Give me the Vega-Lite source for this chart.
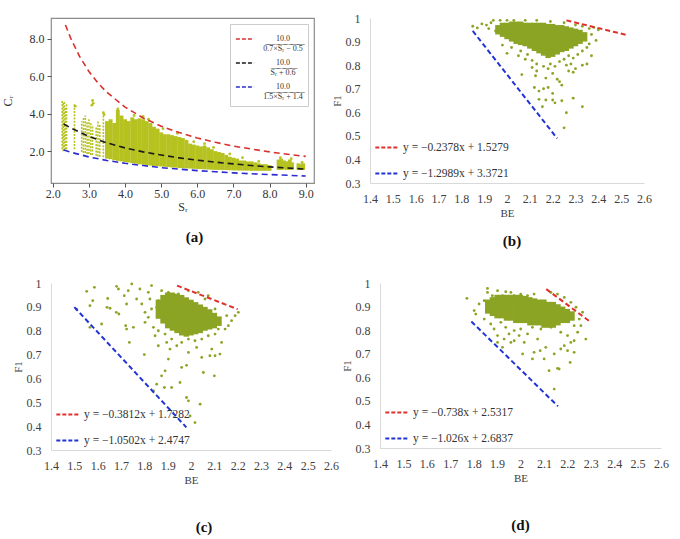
{
  "$schema": "https://vega.github.io/schema/vega-lite/v6.json",
  "background": "white",
  "padding": {"left": 0, "top": 12, "right": 5, "bottom": 5},
  "config": {
    "font": "Liberation Serif",
    "axis": {"labelFont": "Liberation Serif", "titleFont": "Liberation Serif", "titleFontWeight": "normal", "grid": false, "labelFlush": false},
    "legend": {"labelFont": "Liberation Serif"},
    "title": {"font": "Liberation Serif", "fontWeight": "bold", "fontSize": 15, "color": "#111"}
  },
  "datasets": {
    "a_cols": [
      {"S": 2.26, "C": 2.1, "C2": 4.7}, {"S": 2.29, "C": 2.0, "C2": 4.6}, {"S": 2.32, "C": 2.05, "C2": 4.7}, {"S": 2.35, "C": 2.1, "C2": 4.4},
      {"S": 2.38, "C": 2.1, "C2": 4.5},
      {"S": 2.6, "C": 2.1, "C2": 4.5},
      {"S": 2.8, "C": 1.95, "C2": 3.6}, {"S": 2.85, "C": 1.9, "C2": 3.8}, {"S": 2.9, "C": 1.9, "C2": 3.9}, {"S": 2.95, "C": 1.85, "C2": 3.6},
      {"S": 3.0, "C": 1.85, "C2": 3.7}, {"S": 3.05, "C": 1.8, "C2": 3.5}, {"S": 3.1, "C": 1.8, "C2": 3.4},
      {"S": 3.2, "C": 1.75, "C2": 3.3}, {"S": 3.25, "C": 1.72, "C2": 3.6}, {"S": 3.3, "C": 1.7, "C2": 3.4}, {"S": 3.4, "C": 1.68, "C2": 3.9}
    ],
    "a_band": [
      {"S": 3.5, "C": 1.6, "C2": 3.6}, {"S": 3.6, "C": 1.57, "C2": 3.7}, {"S": 3.7, "C": 1.52, "C2": 3.5}, {"S": 3.8, "C": 1.48, "C2": 4.2},
      {"S": 3.9, "C": 1.45, "C2": 3.9}, {"S": 4.0, "C": 1.42, "C2": 3.7}, {"S": 4.1, "C": 1.39, "C2": 3.6}, {"S": 4.2, "C": 1.36, "C2": 3.8},
      {"S": 4.3, "C": 1.33, "C2": 3.7}, {"S": 4.4, "C": 1.3, "C2": 3.75}, {"S": 4.5, "C": 1.28, "C2": 3.7}, {"S": 4.6, "C": 1.25, "C2": 3.6},
      {"S": 4.7, "C": 1.23, "C2": 3.5}, {"S": 4.8, "C": 1.21, "C2": 3.3}, {"S": 4.9, "C": 1.2, "C2": 3.2}, {"S": 5.0, "C": 1.18, "C2": 3.0},
      {"S": 5.1, "C": 1.16, "C2": 2.9}, {"S": 5.2, "C": 1.15, "C2": 2.9}, {"S": 5.3, "C": 1.13, "C2": 2.85}, {"S": 5.4, "C": 1.12, "C2": 2.8},
      {"S": 5.5, "C": 1.1, "C2": 2.75}, {"S": 5.6, "C": 1.09, "C2": 2.7}, {"S": 5.7, "C": 1.08, "C2": 2.6}, {"S": 5.8, "C": 1.07, "C2": 2.4},
      {"S": 5.9, "C": 1.06, "C2": 2.35}, {"S": 6.0, "C": 1.05, "C2": 2.3}, {"S": 6.1, "C": 1.04, "C2": 2.25}, {"S": 6.2, "C": 1.03, "C2": 2.3},
      {"S": 6.3, "C": 1.02, "C2": 2.2}, {"S": 6.4, "C": 1.01, "C2": 2.1}, {"S": 6.5, "C": 1.0, "C2": 2.0}, {"S": 6.6, "C": 1.0, "C2": 1.95},
      {"S": 6.7, "C": 0.99, "C2": 1.9}, {"S": 6.8, "C": 0.99, "C2": 1.8}, {"S": 6.9, "C": 0.98, "C2": 1.7}, {"S": 7.0, "C": 0.97, "C2": 1.65},
      {"S": 7.1, "C": 0.97, "C2": 1.6}, {"S": 7.2, "C": 0.96, "C2": 1.5}, {"S": 7.3, "C": 0.96, "C2": 1.5}, {"S": 7.4, "C": 0.96, "C2": 1.45},
      {"S": 7.5, "C": 0.95, "C2": 1.45}, {"S": 7.6, "C": 0.95, "C2": 1.4}, {"S": 7.7, "C": 0.95, "C2": 1.35}, {"S": 7.8, "C": 0.95, "C2": 1.3},
      {"S": 7.9, "C": 0.95, "C2": 1.3}, {"S": 8.0, "C": 0.95, "C2": 1.25},
      {"S": 8.25, "C": 1.0, "C2": 1.55}, {"S": 8.32, "C": 1.0, "C2": 1.6}, {"S": 8.4, "C": 1.02, "C2": 1.5}, {"S": 8.48, "C": 1.0, "C2": 1.45},
      {"S": 8.56, "C": 1.0, "C2": 1.55}, {"S": 8.62, "C": 1.02, "C2": 1.4}, {"S": 8.8, "C": 1.0, "C2": 1.35}, {"S": 8.87, "C": 1.0, "C2": 1.3},
      {"S": 8.93, "C": 1.0, "C2": 1.35}
    ],
    "a_pts": [
      {"S": 3.1, "C": 4.7}, {"S": 3.12, "C": 4.55}, {"S": 3.08, "C": 4.45}, {"S": 3.4, "C": 4.05}, {"S": 3.42, "C": 3.95},
      {"S": 3.8, "C": 4.25}, {"S": 2.62, "C": 4.4}, {"S": 4.25, "C": 3.9}, {"S": 4.5, "C": 3.85}, {"S": 4.65, "C": 3.7},
      {"S": 5.05, "C": 3.2}, {"S": 5.45, "C": 2.95}, {"S": 5.9, "C": 2.5}, {"S": 6.2, "C": 2.4}, {"S": 6.45, "C": 2.2},
      {"S": 6.9, "C": 1.85}, {"S": 7.25, "C": 1.65}, {"S": 7.7, "C": 1.45}, {"S": 8.3, "C": 1.65}, {"S": 8.6, "C": 1.6}, {"S": 8.9, "C": 1.4}
    ],
    "a_curves": [
      {"S": 2.35, "C": 8.73, "curve": "10.0/(0.7×Sᵣ − 0.5)"}, {"S": 2.5, "C": 8.0, "curve": "10.0/(0.7×Sᵣ − 0.5)"},
      {"S": 2.75, "C": 7.02, "curve": "10.0/(0.7×Sᵣ − 0.5)"}, {"S": 3.0, "C": 6.25, "curve": "10.0/(0.7×Sᵣ − 0.5)"},
      {"S": 3.25, "C": 5.63, "curve": "10.0/(0.7×Sᵣ − 0.5)"}, {"S": 3.5, "C": 5.13, "curve": "10.0/(0.7×Sᵣ − 0.5)"},
      {"S": 4.0, "C": 4.35, "curve": "10.0/(0.7×Sᵣ − 0.5)"}, {"S": 4.5, "C": 3.77, "curve": "10.0/(0.7×Sᵣ − 0.5)"},
      {"S": 5.0, "C": 3.33, "curve": "10.0/(0.7×Sᵣ − 0.5)"}, {"S": 5.5, "C": 2.99, "curve": "10.0/(0.7×Sᵣ − 0.5)"},
      {"S": 6.0, "C": 2.7, "curve": "10.0/(0.7×Sᵣ − 0.5)"}, {"S": 6.5, "C": 2.47, "curve": "10.0/(0.7×Sᵣ − 0.5)"},
      {"S": 7.0, "C": 2.27, "curve": "10.0/(0.7×Sᵣ − 0.5)"}, {"S": 7.5, "C": 2.11, "curve": "10.0/(0.7×Sᵣ − 0.5)"},
      {"S": 8.0, "C": 1.96, "curve": "10.0/(0.7×Sᵣ − 0.5)"}, {"S": 8.5, "C": 1.83, "curve": "10.0/(0.7×Sᵣ − 0.5)"},
      {"S": 9.0, "C": 1.72, "curve": "10.0/(0.7×Sᵣ − 0.5)"},
      {"S": 2.3, "C": 3.45, "curve": "10.0/(Sᵣ + 0.6)"}, {"S": 2.5, "C": 3.23, "curve": "10.0/(Sᵣ + 0.6)"},
      {"S": 3.0, "C": 2.78, "curve": "10.0/(Sᵣ + 0.6)"}, {"S": 3.5, "C": 2.44, "curve": "10.0/(Sᵣ + 0.6)"},
      {"S": 4.0, "C": 2.17, "curve": "10.0/(Sᵣ + 0.6)"}, {"S": 4.5, "C": 1.96, "curve": "10.0/(Sᵣ + 0.6)"},
      {"S": 5.0, "C": 1.79, "curve": "10.0/(Sᵣ + 0.6)"}, {"S": 5.5, "C": 1.64, "curve": "10.0/(Sᵣ + 0.6)"},
      {"S": 6.0, "C": 1.52, "curve": "10.0/(Sᵣ + 0.6)"}, {"S": 6.5, "C": 1.41, "curve": "10.0/(Sᵣ + 0.6)"},
      {"S": 7.0, "C": 1.32, "curve": "10.0/(Sᵣ + 0.6)"}, {"S": 7.5, "C": 1.23, "curve": "10.0/(Sᵣ + 0.6)"},
      {"S": 8.0, "C": 1.16, "curve": "10.0/(Sᵣ + 0.6)"}, {"S": 8.5, "C": 1.1, "curve": "10.0/(Sᵣ + 0.6)"},
      {"S": 9.0, "C": 1.04, "curve": "10.0/(Sᵣ + 0.6)"},
      {"S": 2.3, "C": 2.06, "curve": "10.0/(1.5×Sᵣ + 1.4)"}, {"S": 2.5, "C": 1.94, "curve": "10.0/(1.5×Sᵣ + 1.4)"},
      {"S": 3.0, "C": 1.69, "curve": "10.0/(1.5×Sᵣ + 1.4)"}, {"S": 3.5, "C": 1.5, "curve": "10.0/(1.5×Sᵣ + 1.4)"},
      {"S": 4.0, "C": 1.35, "curve": "10.0/(1.5×Sᵣ + 1.4)"}, {"S": 4.5, "C": 1.23, "curve": "10.0/(1.5×Sᵣ + 1.4)"},
      {"S": 5.0, "C": 1.12, "curve": "10.0/(1.5×Sᵣ + 1.4)"}, {"S": 5.5, "C": 1.04, "curve": "10.0/(1.5×Sᵣ + 1.4)"},
      {"S": 6.0, "C": 0.96, "curve": "10.0/(1.5×Sᵣ + 1.4)"}, {"S": 6.5, "C": 0.9, "curve": "10.0/(1.5×Sᵣ + 1.4)"},
      {"S": 7.0, "C": 0.84, "curve": "10.0/(1.5×Sᵣ + 1.4)"}, {"S": 7.5, "C": 0.79, "curve": "10.0/(1.5×Sᵣ + 1.4)"},
      {"S": 8.0, "C": 0.75, "curve": "10.0/(1.5×Sᵣ + 1.4)"}, {"S": 8.5, "C": 0.71, "curve": "10.0/(1.5×Sᵣ + 1.4)"},
      {"S": 9.0, "C": 0.67, "curve": "10.0/(1.5×Sᵣ + 1.4)"}
    ],
    "b_core": [
      {"BE": 1.96, "F1": 0.93, "F1b": 0.97}, {"BE": 1.98, "F1": 0.92, "F1b": 0.98}, {"BE": 2.0, "F1": 0.91, "F1b": 0.98},
      {"BE": 2.02, "F1": 0.9, "F1b": 0.985}, {"BE": 2.04, "F1": 0.89, "F1b": 0.985}, {"BE": 2.06, "F1": 0.885, "F1b": 0.985},
      {"BE": 2.08, "F1": 0.88, "F1b": 0.98}, {"BE": 2.1, "F1": 0.87, "F1b": 0.98}, {"BE": 2.12, "F1": 0.86, "F1b": 0.98},
      {"BE": 2.14, "F1": 0.85, "F1b": 0.98}, {"BE": 2.16, "F1": 0.84, "F1b": 0.98}, {"BE": 2.18, "F1": 0.83, "F1b": 0.975},
      {"BE": 2.2, "F1": 0.835, "F1b": 0.975}, {"BE": 2.22, "F1": 0.845, "F1b": 0.97}, {"BE": 2.24, "F1": 0.855, "F1b": 0.97},
      {"BE": 2.26, "F1": 0.86, "F1b": 0.965}, {"BE": 2.28, "F1": 0.87, "F1b": 0.96}, {"BE": 2.3, "F1": 0.88, "F1b": 0.955},
      {"BE": 2.32, "F1": 0.89, "F1b": 0.95}, {"BE": 2.34, "F1": 0.9, "F1b": 0.94}
    ],
    "b_pts": [
      {"BE": 1.85, "F1": 0.965}, {"BE": 1.87, "F1": 0.958}, {"BE": 1.89, "F1": 0.975}, {"BE": 1.91, "F1": 0.97}, {"BE": 1.93, "F1": 0.98},
      {"BE": 1.92, "F1": 0.955}, {"BE": 1.94, "F1": 0.99}, {"BE": 1.95, "F1": 0.945}, {"BE": 1.97, "F1": 0.99}, {"BE": 1.99, "F1": 0.95},
      {"BE": 2.0, "F1": 0.99}, {"BE": 2.03, "F1": 0.99}, {"BE": 2.08, "F1": 0.99}, {"BE": 2.13, "F1": 0.99}, {"BE": 2.19, "F1": 0.985},
      {"BE": 2.25, "F1": 0.98}, {"BE": 2.3, "F1": 0.97}, {"BE": 2.33, "F1": 0.965}, {"BE": 2.36, "F1": 0.955}, {"BE": 2.38, "F1": 0.96},
      {"BE": 2.4, "F1": 0.95}, {"BE": 2.37, "F1": 0.93}, {"BE": 2.39, "F1": 0.905}, {"BE": 2.36, "F1": 0.89}, {"BE": 2.35, "F1": 0.875},
      {"BE": 2.33, "F1": 0.86}, {"BE": 2.31, "F1": 0.845}, {"BE": 2.29, "F1": 0.83}, {"BE": 2.35, "F1": 0.805}, {"BE": 2.33, "F1": 0.8},
      {"BE": 2.37, "F1": 0.84}, {"BE": 2.28, "F1": 0.805}, {"BE": 2.26, "F1": 0.8}, {"BE": 2.21, "F1": 0.795}, {"BE": 2.18, "F1": 0.785},
      {"BE": 2.16, "F1": 0.795}, {"BE": 2.13, "F1": 0.805}, {"BE": 2.11, "F1": 0.82}, {"BE": 2.09, "F1": 0.845}, {"BE": 2.06, "F1": 0.86},
      {"BE": 2.02, "F1": 0.875}, {"BE": 2.0, "F1": 0.85}, {"BE": 1.98, "F1": 0.885}, {"BE": 2.05, "F1": 0.84}, {"BE": 2.08, "F1": 0.825},
      {"BE": 2.23, "F1": 0.815}, {"BE": 2.25, "F1": 0.825}, {"BE": 2.27, "F1": 0.84}, {"BE": 2.065, "F1": 0.76}, {"BE": 2.125, "F1": 0.755},
      {"BE": 2.17, "F1": 0.745}, {"BE": 2.22, "F1": 0.74}, {"BE": 2.23, "F1": 0.73}, {"BE": 2.12, "F1": 0.705}, {"BE": 2.14, "F1": 0.69},
      {"BE": 2.16, "F1": 0.7}, {"BE": 2.18, "F1": 0.705}, {"BE": 2.14, "F1": 0.655}, {"BE": 2.17, "F1": 0.652}, {"BE": 2.2, "F1": 0.652},
      {"BE": 2.21, "F1": 0.64}, {"BE": 2.24, "F1": 0.649}, {"BE": 2.29, "F1": 0.66}, {"BE": 2.26, "F1": 0.598}, {"BE": 2.33, "F1": 0.624},
      {"BE": 2.25, "F1": 0.534}, {"BE": 2.155, "F1": 0.624}, {"BE": 2.2, "F1": 0.68}, {"BE": 2.24, "F1": 0.715}, {"BE": 2.29, "F1": 0.77},
      {"BE": 2.3, "F1": 0.785}, {"BE": 2.13, "F1": 0.775}, {"BE": 2.19, "F1": 0.805}, {"BE": 2.11, "F1": 0.79}, {"BE": 2.2, "F1": 0.765},
      {"BE": 2.27, "F1": 0.775}
    ],
    "b_lines": [
      {"BE": 2.26, "F1": 0.99, "eq": "y = −0.2378x + 1.5279"}, {"BE": 2.52, "F1": 0.929, "eq": "y = −0.2378x + 1.5279"},
      {"BE": 1.85, "F1": 0.945, "eq": "y = −1.2989x + 3.3721"}, {"BE": 2.22, "F1": 0.489, "eq": "y = −1.2989x + 3.3721"}
    ],
    "c_core": [
      {"BE": 1.86, "F1": 0.85, "F1b": 0.93}, {"BE": 1.88, "F1": 0.83, "F1b": 0.95}, {"BE": 1.9, "F1": 0.81, "F1b": 0.96},
      {"BE": 1.92, "F1": 0.8, "F1b": 0.96}, {"BE": 1.94, "F1": 0.79, "F1b": 0.955}, {"BE": 1.96, "F1": 0.78, "F1b": 0.95},
      {"BE": 1.98, "F1": 0.775, "F1b": 0.94}, {"BE": 2.0, "F1": 0.78, "F1b": 0.93}, {"BE": 2.02, "F1": 0.785, "F1b": 0.92},
      {"BE": 2.04, "F1": 0.79, "F1b": 0.91}, {"BE": 2.06, "F1": 0.8, "F1b": 0.9}, {"BE": 2.08, "F1": 0.805, "F1b": 0.89},
      {"BE": 2.1, "F1": 0.81, "F1b": 0.875}, {"BE": 2.12, "F1": 0.82, "F1b": 0.86}
    ],
    "c_pts": [
      {"BE": 1.51, "F1": 0.89}, {"BE": 1.553, "F1": 0.965}, {"BE": 1.586, "F1": 0.982}, {"BE": 1.579, "F1": 0.926}, {"BE": 1.567, "F1": 0.905},
      {"BE": 1.567, "F1": 0.814}, {"BE": 1.617, "F1": 0.828}, {"BE": 1.64, "F1": 0.898}, {"BE": 1.653, "F1": 0.894}, {"BE": 1.643, "F1": 0.935},
      {"BE": 1.681, "F1": 0.986}, {"BE": 1.689, "F1": 0.975}, {"BE": 1.691, "F1": 0.87}, {"BE": 1.68, "F1": 0.877}, {"BE": 1.714, "F1": 0.947},
      {"BE": 1.746, "F1": 0.996}, {"BE": 1.731, "F1": 0.968}, {"BE": 1.724, "F1": 0.912}, {"BE": 1.72, "F1": 0.821}, {"BE": 1.724, "F1": 0.807},
      {"BE": 1.753, "F1": 0.814}, {"BE": 1.736, "F1": 0.751}, {"BE": 1.767, "F1": 0.933}, {"BE": 1.781, "F1": 0.975}, {"BE": 1.789, "F1": 0.912},
      {"BE": 1.803, "F1": 0.877}, {"BE": 1.803, "F1": 0.835}, {"BE": 1.8, "F1": 0.7}, {"BE": 1.817, "F1": 0.961}, {"BE": 1.824, "F1": 0.933},
      {"BE": 1.831, "F1": 0.989}, {"BE": 1.846, "F1": 0.779}, {"BE": 1.86, "F1": 0.737}, {"BE": 1.839, "F1": 0.548}, {"BE": 1.853, "F1": 0.576},
      {"BE": 1.874, "F1": 0.611}, {"BE": 1.886, "F1": 0.562}, {"BE": 1.889, "F1": 0.632}, {"BE": 1.903, "F1": 0.681}, {"BE": 1.91, "F1": 0.723},
      {"BE": 1.917, "F1": 0.562}, {"BE": 1.953, "F1": 0.583}, {"BE": 1.96, "F1": 0.646}, {"BE": 1.981, "F1": 0.655}, {"BE": 1.989, "F1": 0.709},
      {"BE": 1.981, "F1": 0.52}, {"BE": 1.989, "F1": 0.506}, {"BE": 1.996, "F1": 0.443}, {"BE": 2.017, "F1": 0.415}, {"BE": 2.039, "F1": 0.492},
      {"BE": 2.024, "F1": 0.73}, {"BE": 2.046, "F1": 0.688}, {"BE": 2.053, "F1": 0.625}, {"BE": 2.081, "F1": 0.695}, {"BE": 2.089, "F1": 0.723},
      {"BE": 2.103, "F1": 0.695}, {"BE": 2.1, "F1": 0.611}, {"BE": 2.124, "F1": 0.702}, {"BE": 2.131, "F1": 0.751}, {"BE": 2.146, "F1": 0.807},
      {"BE": 2.16, "F1": 0.821}, {"BE": 2.174, "F1": 0.842}, {"BE": 2.189, "F1": 0.863}, {"BE": 2.203, "F1": 0.877}, {"BE": 2.153, "F1": 0.863},
      {"BE": 2.117, "F1": 0.849}, {"BE": 2.103, "F1": 0.891}, {"BE": 2.06, "F1": 0.933}, {"BE": 2.074, "F1": 0.947}, {"BE": 2.031, "F1": 0.961},
      {"BE": 1.989, "F1": 0.968}, {"BE": 1.946, "F1": 0.954}, {"BE": 1.903, "F1": 0.961}, {"BE": 1.874, "F1": 0.968}, {"BE": 1.86, "F1": 0.926},
      {"BE": 1.853, "F1": 0.898}, {"BE": 1.831, "F1": 0.891}, {"BE": 1.817, "F1": 0.856}, {"BE": 1.839, "F1": 0.814}, {"BE": 1.86, "F1": 0.8},
      {"BE": 1.889, "F1": 0.786}, {"BE": 1.896, "F1": 0.751}, {"BE": 1.917, "F1": 0.765}, {"BE": 1.939, "F1": 0.737}, {"BE": 1.96, "F1": 0.751},
      {"BE": 1.989, "F1": 0.765}, {"BE": 2.017, "F1": 0.758}, {"BE": 2.046, "F1": 0.765}, {"BE": 2.074, "F1": 0.779}, {"BE": 2.103, "F1": 0.786},
      {"BE": 2.117, "F1": 0.807}
    ],
    "c_lines": [
      {"BE": 1.94, "F1": 0.989, "eq": "y = −0.3812x + 1.7282"}, {"BE": 2.2, "F1": 0.89, "eq": "y = −0.3812x + 1.7282"},
      {"BE": 1.5, "F1": 0.899, "eq": "y = −1.0502x + 2.4747"}, {"BE": 1.98, "F1": 0.395, "eq": "y = −1.0502x + 2.4747"}
    ],
    "d_core": [
      {"BE": 1.86, "F1": 0.87, "F1b": 0.93}, {"BE": 1.88, "F1": 0.86, "F1b": 0.94}, {"BE": 1.9, "F1": 0.85, "F1b": 0.95},
      {"BE": 1.92, "F1": 0.85, "F1b": 0.95}, {"BE": 1.94, "F1": 0.84, "F1b": 0.95}, {"BE": 1.96, "F1": 0.84, "F1b": 0.95},
      {"BE": 1.98, "F1": 0.83, "F1b": 0.95}, {"BE": 2.0, "F1": 0.83, "F1b": 0.95}, {"BE": 2.02, "F1": 0.83, "F1b": 0.945},
      {"BE": 2.04, "F1": 0.82, "F1b": 0.94}, {"BE": 2.06, "F1": 0.82, "F1b": 0.935}, {"BE": 2.08, "F1": 0.82, "F1b": 0.93},
      {"BE": 2.1, "F1": 0.81, "F1b": 0.93}, {"BE": 2.12, "F1": 0.81, "F1b": 0.92}, {"BE": 2.14, "F1": 0.81, "F1b": 0.92},
      {"BE": 2.16, "F1": 0.82, "F1b": 0.91}, {"BE": 2.18, "F1": 0.83, "F1b": 0.9}, {"BE": 2.2, "F1": 0.83, "F1b": 0.89},
      {"BE": 2.22, "F1": 0.84, "F1b": 0.88}
    ],
    "d_pts": [
      {"BE": 1.771, "F1": 0.935}, {"BE": 1.802, "F1": 0.883}, {"BE": 1.809, "F1": 0.868}, {"BE": 1.823, "F1": 0.911}, {"BE": 1.845, "F1": 0.925},
      {"BE": 1.859, "F1": 0.96}, {"BE": 1.859, "F1": 0.977}, {"BE": 1.88, "F1": 0.946}, {"BE": 1.902, "F1": 0.967}, {"BE": 1.923, "F1": 0.946},
      {"BE": 1.937, "F1": 0.963}, {"BE": 1.959, "F1": 0.96}, {"BE": 1.845, "F1": 0.847}, {"BE": 1.873, "F1": 0.826}, {"BE": 1.887, "F1": 0.805},
      {"BE": 1.902, "F1": 0.777}, {"BE": 1.902, "F1": 0.748}, {"BE": 1.923, "F1": 0.727}, {"BE": 1.93, "F1": 0.762}, {"BE": 1.951, "F1": 0.784},
      {"BE": 1.959, "F1": 0.748}, {"BE": 1.973, "F1": 0.755}, {"BE": 1.994, "F1": 0.777}, {"BE": 2.009, "F1": 0.699}, {"BE": 2.016, "F1": 0.748},
      {"BE": 2.03, "F1": 0.784}, {"BE": 2.051, "F1": 0.678}, {"BE": 2.058, "F1": 0.706}, {"BE": 2.073, "F1": 0.762}, {"BE": 2.084, "F1": 0.713},
      {"BE": 2.101, "F1": 0.678}, {"BE": 2.108, "F1": 0.727}, {"BE": 2.122, "F1": 0.628}, {"BE": 2.144, "F1": 0.699}, {"BE": 2.158, "F1": 0.638},
      {"BE": 2.172, "F1": 0.72}, {"BE": 2.187, "F1": 0.734}, {"BE": 2.201, "F1": 0.713}, {"BE": 2.212, "F1": 0.663}, {"BE": 2.229, "F1": 0.706},
      {"BE": 2.144, "F1": 0.55}, {"BE": 2.165, "F1": 0.635}, {"BE": 2.229, "F1": 0.755}, {"BE": 2.244, "F1": 0.791}, {"BE": 2.258, "F1": 0.819},
      {"BE": 2.251, "F1": 0.847}, {"BE": 2.279, "F1": 0.762}, {"BE": 2.265, "F1": 0.876}, {"BE": 2.237, "F1": 0.897}, {"BE": 2.215, "F1": 0.918},
      {"BE": 2.187, "F1": 0.939}, {"BE": 2.158, "F1": 0.953}, {"BE": 2.13, "F1": 0.96}, {"BE": 2.058, "F1": 0.953}, {"BE": 2.03, "F1": 0.946},
      {"BE": 2.001, "F1": 0.953}, {"BE": 1.973, "F1": 0.946}, {"BE": 2.087, "F1": 0.805}, {"BE": 2.13, "F1": 0.812}, {"BE": 2.172, "F1": 0.791},
      {"BE": 2.201, "F1": 0.777}, {"BE": 2.229, "F1": 0.819}, {"BE": 2.215, "F1": 0.748}, {"BE": 2.001, "F1": 0.805}, {"BE": 1.973, "F1": 0.798},
      {"BE": 2.051, "F1": 0.812}, {"BE": 1.916, "F1": 0.833}, {"BE": 1.937, "F1": 0.812}
    ],
    "d_lines": [
      {"BE": 2.11, "F1": 0.974, "eq": "y = −0.738x + 2.5317"}, {"BE": 2.3, "F1": 0.834, "eq": "y = −0.738x + 2.5317"},
      {"BE": 1.79, "F1": 0.837, "eq": "y = −1.026x + 2.6837"}, {"BE": 2.16, "F1": 0.477, "eq": "y = −1.026x + 2.6837"}
    ]
  },
  "resolve": {"scale": {"color": "independent"}, "legend": {"color": "independent"}},
  "spacing": 28,
  "vconcat": [
    {
      "resolve": {"scale": {"color": "independent"}, "legend": {"color": "independent"}},
      "spacing": 16,
      "hconcat": [
        {
          "width": 263,
          "height": 165,
          "view": {"stroke": "#8c8c8c", "strokeWidth": 1.2},
          "title": {"text": "(a)", "orient": "bottom", "offset": 18, "dx": 12},
          "encoding": {
            "x": {"field": "S", "type": "quantitative", "scale": {"domain": [1.95, 9.23], "nice": false, "zero": false},
              "axis": {"title": "Sᵣ", "values": [2, 3, 4, 5, 6, 7, 8, 9], "format": ".1f", "domain": false, "tickColor": "#555", "tickSize": 4,
                "labelPadding": 1, "labelFontSize": 12, "labelColor": "#333", "titleFontSize": 12, "titleColor": "#333", "titlePadding": 2}},
            "y": {"field": "C", "type": "quantitative", "scale": {"domain": [0.3, 9.1], "nice": false, "zero": false},
              "axis": {"title": "Cᵣ", "values": [2, 4, 6, 8], "format": ".1f", "domain": false, "tickColor": "#555", "tickSize": 4,
                "labelPadding": 3, "labelFontSize": 12, "labelColor": "#333", "titleFontSize": 12, "titleColor": "#333", "titlePadding": 15}}
          },
          "layer": [
            {
              "data": {"name": "a_cols"},
              "mark": {"type": "rule", "strokeWidth": 1.6, "strokeDash": [2, 1.3], "color": "#b5c21f"},
              "encoding": {"y2": {"field": "C2"}}
            },
            {
              "data": {"name": "a_band"},
              "mark": {"type": "rule", "strokeWidth": 3.9, "color": "#b5c21f"},
              "encoding": {"y2": {"field": "C2"}}
            },
            {
              "data": {"name": "a_pts"},
              "mark": {"type": "point", "filled": true, "size": 8, "opacity": 1, "color": "#b5c21f"}
            },
            {
              "data": {"name": "a_curves"},
              "mark": {"type": "line", "strokeDash": [6, 4], "strokeWidth": 1.6},
              "encoding": {
                "color": {"field": "curve", "type": "nominal",
                  "scale": {"domain": ["10.0/(0.7×Sᵣ − 0.5)", "10.0/(Sᵣ + 0.6)", "10.0/(1.5×Sᵣ + 1.4)"], "range": ["#d8302c", "#1a1a1a", "#2c2cd0"]},
                  "legend": {"title": null, "orient": "top-right", "offset": 6, "padding": 5, "strokeColor": "#cccccc", "fillColor": "white",
                    "symbolType": "stroke", "symbolStrokeWidth": 1.6, "symbolDash": [4, 2], "symbolSize": 330,
                    "labelFontSize": 8, "labelColor": "#333", "labelLimit": 200, "rowPadding": 0, "labelBaseline": "middle",
                    "labelAlign": "center", "labelOffset": 28,
                    "labelExpr": "['10.0', replace(slice(datum.label, 6, -1), regexp('(.)', 'g'), '$1\u0305')]"}
                }
              }
            }
          ]
        },
        {
          "width": 274,
          "height": 165,
          "view": {"stroke": null},
          "title": {"text": "(b)", "orient": "bottom", "offset": 16, "dx": 5},
          "encoding": {
            "x": {"field": "BE", "type": "quantitative", "scale": {"domain": [1.4, 2.6], "nice": false, "zero": false},
              "axis": {"title": "BE", "values": [1.4, 1.5, 1.6, 1.7, 1.8, 1.9, 2.0, 2.1, 2.2, 2.3, 2.4, 2.5, 2.6], "format": ".1~f",
                "domainColor": "#d9d9d9", "ticks": false, "labelPadding": 10, "labelFontSize": 12, "labelColor": "#404040",
                "titleFontSize": 11, "titleColor": "#404040", "titlePadding": 3}},
            "y": {"field": "F1", "type": "quantitative", "scale": {"domain": [0.3, 1], "nice": false, "zero": false},
              "axis": {"title": "F1", "values": [0.3, 0.4, 0.5, 0.6, 0.7, 0.8, 0.9, 1], "format": ".1~f",
                "domainColor": "#d9d9d9", "ticks": false, "labelPadding": 10, "labelFontSize": 12, "labelColor": "#404040",
                "titleFontSize": 11, "titleColor": "#404040", "titlePadding": 3}}
          },
          "layer": [
            {"data": {"name": "b_core"}, "mark": {"type": "rule", "strokeWidth": 5.4, "color": "#8ba424"}, "encoding": {"y2": {"field": "F1b"}}},
            {"data": {"name": "b_pts"}, "mark": {"type": "point", "filled": true, "size": 8, "opacity": 1, "color": "#8ba424"}},
            {
              "data": {"name": "b_lines"},
              "mark": {"type": "line", "strokeDash": [5, 3], "strokeWidth": 2},
              "encoding": {
                "color": {"field": "eq", "type": "nominal", "scale": {"domain": ["y = −0.2378x + 1.5279", "y = −1.2989x + 3.3721"], "range": ["#e0302c", "#2233d6"]},
                  "legend": {"title": null, "orient": "bottom-left", "offset": 4, "padding": 0, "symbolType": "stroke", "symbolStrokeWidth": 2,
                    "symbolDash": [4, 2], "symbolSize": 500, "labelFontSize": 11.5, "labelColor": "#333", "rowPadding": 8, "labelLimit": 300}}
              }
            }
          ]
        }
      ]
    },
    {
      "resolve": {"scale": {"color": "independent"}, "legend": {"color": "independent"}},
      "spacing": 2,
      "hconcat": [
        {
          "width": 280,
          "height": 167,
          "view": {"stroke": null},
          "title": {"text": "(c)", "orient": "bottom", "offset": 35, "dx": 13},
          "encoding": {
            "x": {"field": "BE", "type": "quantitative", "scale": {"domain": [1.4, 2.6], "nice": false, "zero": false},
              "axis": {"title": "BE", "values": [1.4, 1.5, 1.6, 1.7, 1.8, 1.9, 2.0, 2.1, 2.2, 2.3, 2.4, 2.5, 2.6], "format": ".1~f",
                "domainColor": "#d9d9d9", "ticks": false, "labelPadding": 10, "labelFontSize": 12, "labelColor": "#404040",
                "titleFontSize": 11, "titleColor": "#404040", "titlePadding": 3}},
            "y": {"field": "F1", "type": "quantitative", "scale": {"domain": [0.3, 1], "nice": false, "zero": false},
              "axis": {"title": "F1", "values": [0.3, 0.4, 0.5, 0.6, 0.7, 0.8, 0.9, 1], "format": ".1~f",
                "domainColor": "#d9d9d9", "ticks": false, "labelPadding": 10, "labelFontSize": 12, "labelColor": "#404040",
                "titleFontSize": 11, "titleColor": "#404040", "titlePadding": 3}}
          },
          "layer": [
            {"data": {"name": "c_core"}, "mark": {"type": "rule", "strokeWidth": 5.4, "color": "#8ba424"}, "encoding": {"y2": {"field": "F1b"}}},
            {"data": {"name": "c_pts"}, "mark": {"type": "point", "filled": true, "size": 8, "opacity": 1, "color": "#8ba424"}},
            {
              "data": {"name": "c_lines"},
              "mark": {"type": "line", "strokeDash": [5, 3], "strokeWidth": 2},
              "encoding": {
                "color": {"field": "eq", "type": "nominal", "scale": {"domain": ["y = −0.3812x + 1.7282", "y = −1.0502x + 2.4747"], "range": ["#e0302c", "#2233d6"]},
                  "legend": {"title": null, "orient": "bottom-left", "offset": 4, "padding": 0, "symbolType": "stroke", "symbolStrokeWidth": 2,
                    "symbolDash": [4, 2], "symbolSize": 500, "labelFontSize": 11.5, "labelColor": "#333", "rowPadding": 8, "labelLimit": 300}}
              }
            }
          ]
        },
        {
          "width": 281,
          "height": 165,
          "view": {"stroke": null},
          "title": {"text": "(d)", "orient": "bottom", "offset": 35},
          "encoding": {
            "x": {"field": "BE", "type": "quantitative", "scale": {"domain": [1.4, 2.6], "nice": false, "zero": false},
              "axis": {"title": "BE", "values": [1.4, 1.5, 1.6, 1.7, 1.8, 1.9, 2.0, 2.1, 2.2, 2.3, 2.4, 2.5, 2.6], "format": ".1~f",
                "domainColor": "#d9d9d9", "ticks": false, "labelPadding": 10, "labelFontSize": 12, "labelColor": "#404040",
                "titleFontSize": 11, "titleColor": "#404040", "titlePadding": 3}},
            "y": {"field": "F1", "type": "quantitative", "scale": {"domain": [0.3, 1], "nice": false, "zero": false},
              "axis": {"title": "F1", "values": [0.3, 0.4, 0.5, 0.6, 0.7, 0.8, 0.9, 1], "format": ".1~f",
                "domainColor": "#d9d9d9", "ticks": false, "labelPadding": 10, "labelFontSize": 12, "labelColor": "#404040",
                "titleFontSize": 11, "titleColor": "#404040", "titlePadding": 3}}
          },
          "layer": [
            {"data": {"name": "d_core"}, "mark": {"type": "rule", "strokeWidth": 5.4, "color": "#8ba424"}, "encoding": {"y2": {"field": "F1b"}}},
            {"data": {"name": "d_pts"}, "mark": {"type": "point", "filled": true, "size": 8, "opacity": 1, "color": "#8ba424"}},
            {
              "data": {"name": "d_lines"},
              "mark": {"type": "line", "strokeDash": [5, 3], "strokeWidth": 2},
              "encoding": {
                "color": {"field": "eq", "type": "nominal", "scale": {"domain": ["y = −0.738x + 2.5317", "y = −1.026x + 2.6837"], "range": ["#e0302c", "#2233d6"]},
                  "legend": {"title": null, "orient": "bottom-left", "offset": 4, "padding": 0, "symbolType": "stroke", "symbolStrokeWidth": 2,
                    "symbolDash": [4, 2], "symbolSize": 500, "labelFontSize": 11.5, "labelColor": "#333", "rowPadding": 8, "labelLimit": 300}}
              }
            }
          ]
        }
      ]
    }
  ]
}
